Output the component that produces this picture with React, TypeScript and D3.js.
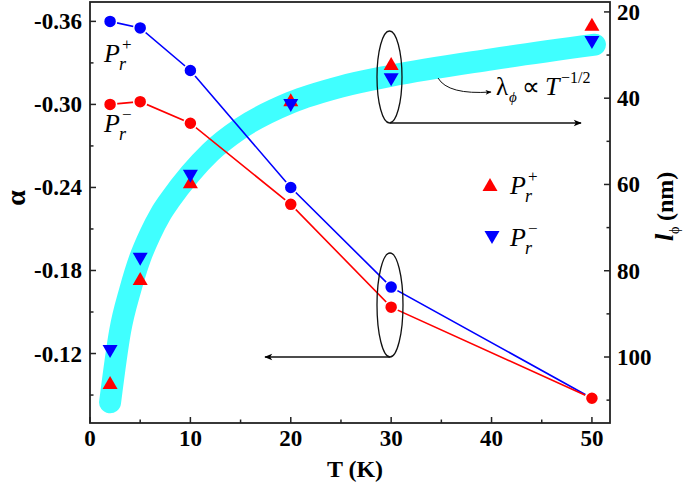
import React from "react";
import * as d3 from "d3";

const temps = [2, 5, 10, 20, 30, 50];
const alphaPlus = [-0.360, -0.3553, -0.3245, -0.240, -0.168, -0.0877];
const alphaMinus = [-0.300, -0.302, -0.2864, -0.2278, -0.1535, -0.0877];
const lPlus = [106, 81.9, 59.5, 40.5, 32.1, 23];
const lMinus = [98.6, 77.2, 58, 41.6, 35.6, 27];
const fitT = [2, 3, 4, 5, 6, 7, 8, 10, 12, 15, 20, 25, 30, 40, 50.3];
const fitL = [110.5, 94, 84.5, 77, 71.5, 67, 63.5, 57.5, 52.5, 47, 41, 37.3, 34.8, 31, 27.6];
const xMajor = [0, 10, 20, 30, 40, 50];
const xMinor = [5, 15, 25, 35, 45];
const yLMajor = [-0.36, -0.30, -0.24, -0.18, -0.12];
const yLMinor = [-0.33, -0.27, -0.21, -0.15, -0.09];
const yRMajor = [20, 40, 60, 80, 100];
const yRMinor = [30, 50, 70, 90, 110];

const L = 90, R = 610, T0 = 2, B = 423;
const FONT = "'Times New Roman', 'Liberation Serif', Tinos, serif";

export default function App() {
  const x = d3.scaleLinear().domain([0, 51.8]).range([L, R]);
  const yL = d3.scaleLinear().domain([-0.0698, -0.374]).range([B, T0]);
  const yR = d3.scaleLinear().domain([17.7, 115.3]).range([T0, B]);

  const fitLine = d3.line<number>().x((_, i) => x(fitT[i])).y((d) => yR(d)).curve(d3.curveMonotoneX);
  const lineA = d3.line<number>().x((_, i) => x(temps[i])).y((d) => yL(d));

  const up = (cx: number, cy: number) => `M${cx},${cy - 7}L${cx + 7.5},${cy + 6}L${cx - 7.5},${cy + 6}Z`;
  const down = (cx: number, cy: number) => `M${cx},${cy + 7}L${cx + 7.5},${cy - 6}L${cx - 7.5},${cy - 6}Z`;

  const Pr = ({ px, py, sign }: { px: number; py: number; sign: string }) => (
    <g style={{ fontFamily: FONT }}>
      <text x={px} y={py} fontStyle="italic" fontSize={26}>P</text>
      <text x={px + 15} y={py + 8} fontStyle="italic" fontSize={18}>r</text>
      <text x={px + 18} y={py - 12} fontSize={17}>{sign}</text>
    </g>
  );

  return (
    <svg width={685} height={485} style={{ position: "absolute", left: 0, top: 0, background: "#fff", fontFamily: FONT }}>
      <defs>
        <marker id="ah" viewBox="0 0 10 10" refX="9" refY="5" markerWidth="14" markerHeight="8" orient="auto" markerUnits="userSpaceOnUse">
          <path d="M0,1L10,5L0,9L2.5,5Z" fill="#000" />
        </marker>
        <marker id="ahs" viewBox="0 0 10 10" refX="9" refY="5" markerWidth="10" markerHeight="6" orient="auto" markerUnits="userSpaceOnUse">
          <path d="M0,1L10,5L0,9L2.5,5Z" fill="#000" />
        </marker>
      </defs>

      <path d={fitLine(fitL) || ""} fill="none" stroke="#40ffff" strokeWidth={22} strokeLinecap="round" strokeLinejoin="round" />

      <path d={lineA(alphaPlus) || ""} fill="none" stroke="#0000ff" strokeWidth={1.6} />
      <path d={lineA(alphaMinus) || ""} fill="none" stroke="#ff0000" strokeWidth={1.6} />
      {alphaPlus.map((v, i) => (
        <circle key={"bp" + i} cx={x(temps[i])} cy={yL(v)} r={6.5} fill="#0000ff" stroke="#fff" strokeWidth={1.5} />
      ))}
      {alphaMinus.map((v, i) => (
        <circle key={"rm" + i} cx={x(temps[i])} cy={yL(v)} r={6.5} fill="#ff0000" stroke="#fff" strokeWidth={1.5} />
      ))}

      {lPlus.map((v, i) => (
        <path key={"tp" + i} d={up(x(temps[i]), yR(v))} fill="#ff0000" />
      ))}
      {lMinus.map((v, i) => (
        <path key={"tm" + i} d={down(x(temps[i]), yR(v))} fill="#0000ff" />
      ))}

      <rect x={L} y={T0} width={R - L} height={B - T0} fill="none" stroke="#222" strokeWidth={1.8} />

      <g fontWeight="bold" fontSize={23}>
        {xMajor.map((t) => (
          <g key={"xM" + t}>
            <line x1={x(t)} x2={x(t)} y1={B} y2={B - 6} stroke="#222" strokeWidth={1.5} />
            <text x={x(t)} y={446} textAnchor="middle">{t}</text>
          </g>
        ))}
        {xMinor.map((t) => (
          <line key={"xm" + t} x1={x(t)} x2={x(t)} y1={B} y2={B - 3.5} stroke="#222" strokeWidth={1.5} />
        ))}
        {yLMajor.map((t) => (
          <g key={"lM" + t}>
            <line x1={L} x2={L + 6} y1={yL(t)} y2={yL(t)} stroke="#222" strokeWidth={1.5} />
            <text x={82} y={yL(t) + 8} textAnchor="end">{t.toFixed(2)}</text>
          </g>
        ))}
        {yLMinor.map((t) => (
          <line key={"lm" + t} x1={L} x2={L + 3.5} y1={yL(t)} y2={yL(t)} stroke="#222" strokeWidth={1.5} />
        ))}
        {yRMajor.map((t) => (
          <g key={"rM" + t}>
            <line x1={R} x2={R - 6} y1={yR(t)} y2={yR(t)} stroke="#222" strokeWidth={1.5} />
            <text x={617} y={yR(t) + 8} textAnchor="start">{t}</text>
          </g>
        ))}
        {yRMinor.map((t) => (
          <line key={"rm" + t} x1={R} x2={R - 3.5} y1={yR(t)} y2={yR(t)} stroke="#222" strokeWidth={1.5} />
        ))}
      </g>

      <text x={355} y={477} textAnchor="middle" fontWeight="bold" fontSize={24}>T (K)</text>
      <text transform="translate(25,198) rotate(-90)" textAnchor="middle" fontWeight="bold" fontSize={28}>α</text>
      <g transform="translate(673,205) rotate(-90)">
        <text x={-36} y={0} fontWeight="bold" fontStyle="italic" fontSize={26}>l</text>
        <text x={-29} y={6} fontSize={14}>ϕ</text>
        <text x={-16} y={0} fontWeight="bold" fontSize={24}>(nm)</text>
      </g>

      <ellipse cx={389.5} cy={77} rx={12.5} ry={46} fill="none" stroke="#111" strokeWidth={1.3} />
      <line x1={390} y1={123} x2={581} y2={123} stroke="#111" strokeWidth={1.3} markerEnd="url(#ah)" />
      <ellipse cx={390} cy={305} rx={13} ry={52} fill="none" stroke="#111" strokeWidth={1.3} />
      <line x1={390} y1={357} x2={265} y2={357} stroke="#111" strokeWidth={1.3} markerEnd="url(#ah)" />
      <path d="M438,78 Q448,95 491,92" fill="none" stroke="#111" strokeWidth={1} markerEnd="url(#ahs)" />
      <g>
        <text x={496} y={95} fontSize={25}>λ</text>
        <text x={509} y={102} fontSize={15} fontStyle="italic">ϕ</text>
        <text x={522} y={95} fontSize={25}>∝</text>
        <text x={545} y={95} fontSize={26} fontStyle="italic">T</text>
        <text x={561} y={83} fontSize={16}>−1/2</text>
      </g>

      <Pr px={104} py={62} sign="+" />
      <Pr px={104} py={132} sign="−" />

      <path d={up(490, 185)} fill="#ff0000" />
      <Pr px={510} py={194} sign="+" />
      <path d={down(492, 237)} fill="#0000ff" />
      <Pr px={510} py={246} sign="−" />
    </svg>
  );
}
